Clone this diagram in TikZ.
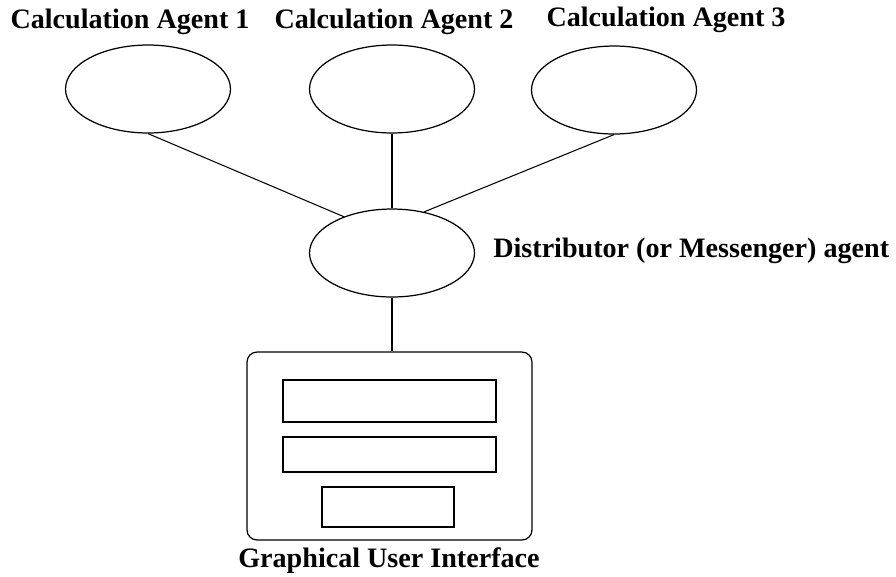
\documentclass[tikz,border=0pt]{standalone}
\usepackage{fontspec}
\setmainfont{Liberation Serif}
\usetikzlibrary{shapes.geometric,positioning}

\begin{document}
\begin{tikzpicture}[x=0.02cm,y=-0.02cm,
    agent/.style={ellipse, draw, line width=0.7pt, minimum width=3.3cm,
        minimum height=1.76cm, inner sep=0pt},
    pane/.style={rectangle, draw, line width=0.7pt, inner sep=0pt},
    lbl/.style={font=\fontsize{16}{18}\selectfont\bfseries, inner sep=0pt},
    conn/.style={line width=0.6pt}
    ]
    \useasboundingbox (0,0) rectangle (896,576);

    % agents
    \node[agent] (calc1) at (148,89) {};
    \node[agent] (calc2) at (392,89) {};
    \node[agent] (calc3) at (614,90) {};
    \node[agent] (dist)  at (392,253) {};

    \node[lbl] (lcalc1) at (130,22) {Calculation Agent 1};
    \node[lbl] (lcalc2) at (394,22) {Calculation Agent 2};
    \node[lbl] (lcalc3) at (666,20) {Calculation Agent 3};
    \node[lbl, anchor=west] (ldist) at (493,251) {Distributor (or Messenger) agent};

    % user interface
    \node[pane, rounded corners=0.2cm, minimum width=5.7cm, minimum height=3.76cm] (gui) at (389.5,446) {};
    \node[pane, minimum width=4.26cm, minimum height=0.84cm] (field1) at (389.5,401) {};
    \node[pane, minimum width=4.26cm, minimum height=0.70cm] (field2) at (389.5,454.5) {};
    \node[pane, minimum width=2.64cm, minimum height=0.80cm] (button) at (388,507) {};
    \node[lbl] (lgui) at (389,561) {Graphical User Interface};

    \draw[conn] (calc1.south) -- (dist.143);
    \draw[conn] (calc2.south) -- (dist.north);
    \draw[conn] (calc3.south) -- (dist.52);
    \draw[conn] (dist.south) -- (dist.south |- gui.north);
\end{tikzpicture}
\end{document}
